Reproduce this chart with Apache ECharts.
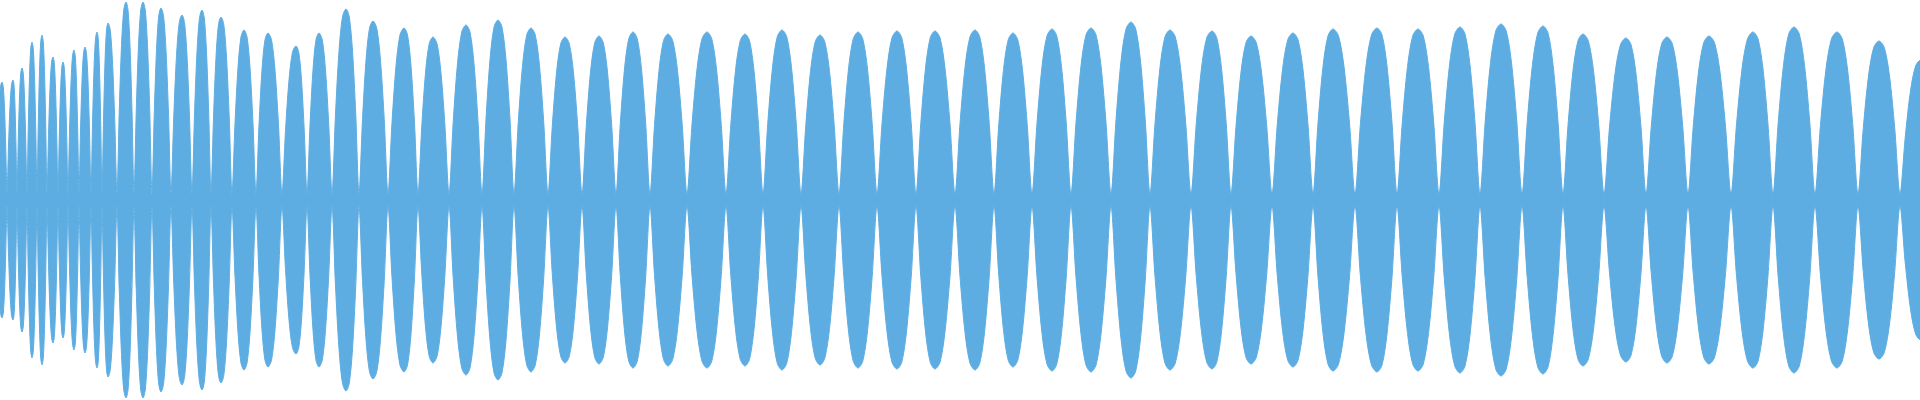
<!DOCTYPE html>
<html><head><meta charset="utf-8">
<script src="https://cdn.jsdelivr.net/npm/echarts@6/dist/echarts.min.js"></script>
<style>html,body{margin:0;padding:0;background:#fff}#c{width:1920px;height:400px}</style>
</head><body><div id="c"></div>
<script>
const peakX = [2,13,22,32,42,53,63,74,85,97,108,126,143,161,182,202,221,244,268,296,319,346,373,404,433,466,498,531,565,599,633,668,707,745,782,820,858,897,935,975,1013,1052,1091,1131,1170,1212,1251,1293,1333,1377,1418,1460,1501,1543,1583,1626,1667,1709,1753,1794,1837,1879,1921];
const peakAmp = [118,120,132,158,165,143,138,150,153,168,177,198,198,192,185,190,183,170,167,154,167,191,179,172,163,175,180,172,163,164,168,166,168,166,170,165,168,169,169,170,167,171,172,178,170,169,164,167,171,172,171,173,176,174,166,162,163,164,168,173,168,159,140];
const troughX = [-4,7,17,27,37,47,58,68,79,91,102,117,134,152,171,192,211,232,256,282,307,332,359,388,418,449,482,514,548,582,616,650,687,726,763,801,839,877,916,955,994,1032,1071,1111,1150,1191,1231,1272,1313,1355,1397,1439,1480,1522,1563,1604,1646,1688,1731,1773,1815,1858,1900,1942];
const troughAmp = 6;
const profilePos = [0.25, 0.5, 0.75];
const profileVal = [0.45, 0.78, 0.96];

const upper = [];
for (let i = 0; i < peakX.length; i++) {
  const a = troughX[i], p = peakX[i], b = troughX[i + 1];
  upper.push([a, troughAmp]);
  profilePos.forEach((f, k) => upper.push([a + (p - a) * f, peakAmp[i] * profileVal[k]]));
  upper.push([p, peakAmp[i]]);
  for (let k = profilePos.length - 1; k >= 0; k--) upper.push([b - (b - p) * profilePos[k], peakAmp[i] * profileVal[k]]);
}
upper.push([troughX[troughX.length - 1], troughAmp]);
const lower = upper.map(q => [q[0], -q[1]]);
const color = '#5DADE2';
const chart = echarts.init(document.getElementById('c'));
chart.setOption({
  animation: false,
  grid: {left: 0, right: 0, top: 0, bottom: 0},
  xAxis: {type: 'value', min: 0, max: 1920, show: false},
  yAxis: {type: 'value', min: -200, max: 200, show: false},
  series: [upper, lower].map(d => ({
    type: 'line', data: d, smooth: 0.3, symbol: 'none',
    lineStyle: {width: 1, color: color}, areaStyle: {color: color, opacity: 1}
  }))
});
</script></body></html>
